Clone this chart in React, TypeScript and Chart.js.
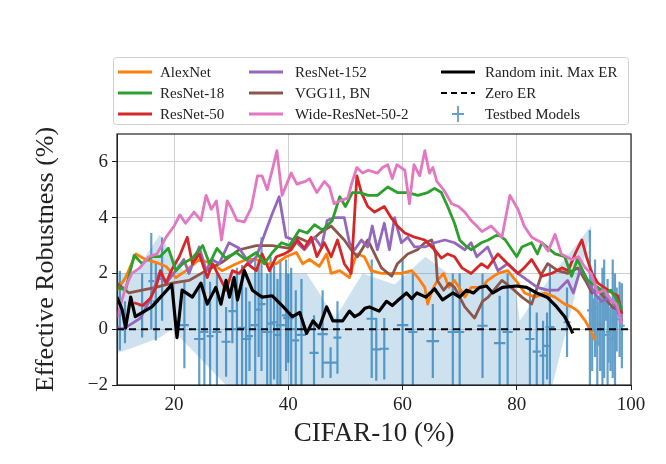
import React, { useEffect, useRef } from 'react';
import { Chart, registerables } from 'chart.js';

Chart.register(...registerables);

const FONT = "'Liberation Serif', 'Times New Roman', serif";

// series labels / colours
const seriesLabels = ['AlexNet', 'ResNet-18', 'ResNet-50', 'ResNet-152', 'VGG11, BN', 'Wide-ResNet-50-2'];
const seriesColors = ['#ff7f0e', '#2ca02c', '#d62728', '#9467bd', '#8c564b', '#e377c2'];

// AlexNet
const alexX = [10, 11.5, 13.3, 15, 16.8, 18.6, 20.3, 22.1, 24.4, 26.6, 28.4, 30.9, 32.6, 34.4, 36.1, 37.9, 39.6, 41.4, 42.5, 43.7, 45.4, 46.7, 47.5, 49, 50.7, 51.6, 52.1, 53.3, 54.5, 56.3, 58.1, 59.8, 61.6, 62.7, 63.9, 64.4, 65.2, 66.1, 67.2, 68.1, 69.1, 70.2, 70.9, 72, 73.9, 74.9, 76.7, 78.4, 80.2, 81.4, 83.2, 84.9, 86.7, 88.4, 89.6, 90.7, 92, 93.2, 93.7];
const alexY = [1.4, 1.85, 2.7, 2.5, 2.4, 2.25, 1.85, 2.1, 2.5, 2.35, 2.1, 2.35, 2.5, 2.5, 2.35, 2.35, 2.6, 2.75, 2.35, 2.5, 2.25, 2.7, 2.0, 2.1, 1.85, 2.5, 2.7, 2.6, 2.1, 2.0, 2.0, 2.0, 2.1, 1.85, 1.5, 0.9, 1.4, 1.75, 2.0, 1.5, 1.75, 1.4, 1.15, 1.5, 1.5, 1.75, 2.0, 2.1, 1.65, 1.3, 1.15, 1.3, 1.15, 0.9, 0.8, 0.65, 0.3, -0.15, -0.4];

// ResNet-18
const r18X = [10, 11.5, 13, 14.4, 16, 17.5, 19, 20.3, 21.5, 23.2, 25, 26.2, 27.5, 29, 30.9, 32.5, 34.4, 35.8, 37.2, 38.8, 40.2, 41.9, 43.3, 44.6, 46, 47.7, 49, 50, 51.2, 52.5, 54, 55.6, 57.4, 59.1, 60.9, 62.7, 64.4, 65.6, 66.8, 67.9, 69.1, 70, 71, 72, 73.8, 75, 76.7, 78, 80, 80.9, 82.6, 83.6, 84.4, 86.7, 88.4, 89.6, 90.6, 92.4, 94.2, 95.3, 96.5, 97.7, 98.4];
const r18Y = [1.5, 1.4, 2.65, 2.35, 2.6, 2.6, 2.9, 2.1, 2.35, 2.55, 3.0, 2.35, 2.9, 2.55, 2.75, 2.5, 2.75, 2.35, 2.75, 3.1, 3.0, 3.55, 3.45, 3.75, 3.55, 3.9, 4.75, 4.4, 4.9, 4.9, 4.8, 4.8, 5.1, 4.9, 4.9, 4.8, 4.9, 5.05, 4.9, 4.4, 3.8, 3.2, 3.0, 2.85, 3.1, 3.2, 3.4, 3.2, 2.6, 2.95, 3.1, 2.7, 3.1, 2.7, 2.6, 1.9, 2.5, 1.75, 1.5, 1.3, 1.4, 1.0, 0.7];

// ResNet-50
const r50X = [13, 14.5, 15.8, 16.8, 17.6, 18.6, 19.5, 20.9, 22.3, 23.2, 24.4, 25.8, 26.7, 28, 29.1, 30.2, 31.4, 32.8, 34.4, 35.4, 36.7, 37.9, 39.3, 40.5, 41.6, 42.8, 44, 45, 46.3, 47.5, 48.6, 49.8, 51, 52, 52.8, 53.9, 55.1, 56.8, 58, 59.1, 60.4, 62.1, 63.9, 65.6, 66.8, 67.9, 69.1, 70.4, 72, 73.8, 74.9, 76.7, 78.4, 80.2, 81.3, 82.6, 84.4, 86.1, 87.9, 89, 90.2, 91.4, 92.2, 93.2, 94.2, 95.3, 96.7, 97.7, 98.4];
const r50Y = [0.95, 0.85, 1.1, 1.5, 2.1, 1.65, 2.1, 2.6, 3.3, 2.35, 2.7, 1.85, 2.35, 1.85, 1.4, 2.1, 2.0, 2.35, 2.1, 2.7, 2.1, 2.6, 2.7, 2.85, 3.2, 2.9, 3.3, 2.6, 3.1, 2.6, 3.2, 2.35, 2.0, 5.5, 4.9, 4.4, 4.2, 4.4, 4.0, 3.7, 3.45, 3.3, 3.2, 2.85, 2.55, 2.7, 2.6, 2.2, 2.0, 2.35, 2.2, 2.7, 2.35, 2.0, 2.2, 2.5, 1.9, 2.0, 2.2, 2.1, 2.7, 3.2, 2.6, 2.0, 1.65, 1.5, 1.3, 1.2, 0.55];

// ResNet-152
const r152X = [10, 11, 12.6, 14.1, 16, 17.4, 18.6, 20.3, 21.7, 22.6, 24.4, 25.6, 26.6, 27.9, 29.6, 31.4, 33.2, 34.4, 36.1, 37.2, 38.4, 39.6, 41, 42.8, 44.6, 45.8, 46.8, 48, 49.8, 50.7, 51.6, 52.8, 53.9, 54.7, 55.6, 56.8, 57.7, 58.6, 59.8, 60.9, 62.1, 63.9, 65.6, 67.4, 69.1, 70.9, 72, 73, 74.9, 76.7, 78.4, 80.2, 81.9, 83.6, 85.4, 87.2, 88.9, 89.9, 91.2, 92.4, 93.6, 94.8, 96, 97.2, 98.4];
const r152Y = [0.1, 0.0, 0.2, 0.4, 1.15, 2.0, 1.65, 2.1, 2.5, 2.0, 2.95, 2.1, 2.5, 2.35, 3.1, 2.9, 2.35, 2.6, 3.55, 4.15, 4.75, 3.3, 3.2, 2.85, 3.3, 2.95, 3.9, 4.0, 4.0, 3.1, 2.85, 3.2, 2.95, 3.7, 2.85, 3.8, 2.85, 4.0, 3.1, 3.3, 2.95, 2.95, 3.1, 3.2, 3.1, 2.85, 3.1, 2.6, 2.95, 2.1, 2.35, 2.0, 1.75, 1.5, 1.4, 1.4, 1.75, 1.3, 2.2, 1.75, 1.3, 1.0, 1.1, 0.9, 0.3];

// VGG11, BN
const vggX = [10, 12.1, 14.4, 16.8, 19.6, 22.6, 25.6, 28.4, 31.4, 34.4, 37.2, 40.2, 41.6, 43.7, 45.5, 47.5, 49.8, 51, 52.1, 53.9, 56.3, 58.1, 59.1, 60.9, 62.6, 63.9, 65.1, 65.8, 66.1, 67.2, 68.2, 69.1, 70.9, 72.6, 74, 75, 77.4, 79, 80.9, 82.6, 84.4, 85.4, 87.2, 88.9, 90.7, 92, 93.2, 94.2, 95.3, 96.7, 97.7, 98.4];
const vggY = [1.65, 1.3, 1.4, 1.5, 1.65, 1.75, 2.1, 2.4, 2.85, 3.0, 3.0, 2.9, 3.3, 3.1, 3.45, 3.7, 3.2, 2.85, 2.6, 3.2, 2.2, 1.9, 2.35, 2.7, 2.85, 3.1, 3.2, 2.7, 1.75, 1.4, 1.65, 1.5, 0.8, 0.4, 1.0, 1.15, 1.75, 1.5, 1.15, 0.9, 2.0, 2.35, 2.1, 2.0, 2.2, 1.75, 1.3, 1.4, 1.15, 0.8, 0.7, 0.3];

// Wide-ResNet-50-2
const wrnX = [10, 11.5, 12.6, 14, 15.6, 17, 18.6, 20, 21, 22, 23.5, 24.7, 25.6, 26.5, 27.4, 28.3, 29.3, 30, 31, 32.3, 33.5, 34.6, 35.4, 36.3, 37.3, 38, 38.9, 40.5, 41.5, 43, 43.7, 45, 46.3, 47.2, 48, 49, 50.4, 51.2, 52, 53, 54, 55.6, 56.5, 57.4, 58.2, 59, 60.4, 61.2, 62, 63, 63.9, 64.7, 65.3, 66, 67.2, 68.6, 69.8, 70.9, 72, 73, 73.9, 75.5, 77.4, 78.8, 80.2, 81.3, 82.6, 84.4, 85.5, 86.7, 87.8, 89.6, 90.8, 92, 93, 94.2, 95.3, 96.7, 97.5, 98.4];
const wrnY = [0.4, 1.5, 2.0, 2.2, 2.6, 2.7, 3.3, 3.7, 4.1, 3.8, 4.2, 3.9, 4.8, 4.3, 4.6, 3.2, 4.6, 4.35, 3.9, 3.85, 4.35, 5.5, 5.5, 5.0, 5.8, 6.4, 4.8, 5.6, 5.2, 5.3, 5.4, 4.9, 5.3, 5.1, 4.5, 4.6, 4.7, 5.3, 5.8, 5.6, 5.7, 5.6, 5.8, 5.9, 5.4, 5.9, 5.7, 4.5, 5.9, 5.5, 6.4, 5.6, 5.8, 5.3, 5.0, 4.5, 4.4, 4.2, 3.9, 3.7, 3.5, 3.7, 3.3, 4.8, 4.3, 3.7, 3.3, 3.1, 2.8, 3.4, 2.7, 2.5, 2.6, 2.2, 2.0, 1.3, 1.4, 1.0, 0.9, 0.2];

// Random init. Max ER
const randX = [10, 10.9, 11.5, 12.4, 13.2, 16.1, 19.6, 20.5, 21.4, 23.2, 24.7, 25.8, 27.3, 28.2, 29.1, 29.7, 30.5, 31.1, 32.3, 33.7, 35.4, 37.2, 38.9, 40.7, 42, 43.2, 44.3, 45.4, 46.7, 47.8, 49.5, 50.7, 51.6, 52.5, 53.4, 54.2, 55.9, 57.2, 58.2, 59, 60.7, 61.6, 62.5, 64.1, 65.6, 67, 68.8, 70, 71.2, 72.4, 73.5, 74.7, 75.8, 77.5, 80, 81.7, 83.5, 85.3, 87, 88.4, 89.6, 89.8];
const randY = [1.15, 0.7, 0.05, 1.15, 0.45, 0.8, 1.6, -0.3, 1.4, 1.15, 1.65, 0.9, 1.5, 0.9, 1.75, 1.15, 1.85, 1.05, 2.1, 1.4, 1.15, 1.2, 0.85, 0.45, 0.6, -0.15, 0.3, 0.05, 0.8, 0.3, 0.3, 0.65, 0.45, 0.55, 0.75, 0.8, 0.65, 1.0, 0.85, 1.0, 1.3, 1.1, 1.3, 1.15, 1.45, 1.05, 1.3, 1.15, 1.4, 1.3, 1.5, 1.55, 1.3, 1.5, 1.55, 1.5, 1.3, 1.15, 0.8, 0.45, -0.05, -0.15];

// shaded region around testbed models
const bandX = [10, 13, 17.5, 19.5, 22, 30, 43.2, 48.2, 53, 58.6, 64, 68, 79.5, 80.5, 86, 93, 93.6, 100];
const bandUpper = [2.0, 2.0, 3.4, 2.7, 2.0, 2.0, 2.0, 0.4, 2.0, 1.6, 2.6, 2.0, 2.0, 0.3, 1.9, 3.7, 0.0, 0.0];
const bandLower = [-0.85, -0.65, -0.3, 0.0, -0.5, -2.2, -2.2, -2.2, -2.2, -2.2, -2.2, -2.2, -2.2, -2.2, -2.2, 3.5, 0.0, 0.0];

// Testbed models (error bars)
const tbX = [10.5, 11.4, 14.4, 16.0, 16.8, 17.9, 21.8, 24.4, 25.3, 26.3, 29.1, 30.2, 31.9, 33.2, 34.2, 35.3, 36.3, 37.5, 38.6, 39.6, 40.5, 42.3, 46.0, 47.4, 48.6, 54.6, 55.4, 56.8, 60.0, 61.8, 65.3, 68.8, 70.0, 74.0, 77.0, 78.4, 82.3, 83.5, 84.6, 85.3, 85.8, 88.8, 92.8, 93.7, 94.6, 95.3, 96.0, 96.8, 97.5, 98.4, 93.5, 94.5, 95.6, 97.0, 27.5, 31.0, 32.6, 34.8, 36.9, 38.1, 40.0, 41.3, 44.5, 93.2, 94.1, 95.0, 95.9, 96.4, 97.2, 98.0];
const tbLo = [-0.75, -0.5, -0.3, 0.0, -0.4, 0.3, -1.4, -2.2, -2.2, -2.2, -1.7, -0.5, -2.2, -1.5, -2.2, -1.5, -2.2, -1.8, -2.2, -1.5, -2.2, -2.2, -1.75, -1.75, -1.6, -1.75, -1.85, -1.8, -2.2, -2.2, -1.75, -2.2, -2.2, -1.75, -2.2, -2.2, -2.2, -2.2, -2.2, -1.8, -2.2, -1.0, -2.2, -1.0, -1.5, -1.75, -1.2, -1.75, -0.8, -1.4, -0.1, -0.6, 0.3, -0.4, -2.2, -2.2, -2.2, -1.0, -2.2, -2.2, -1.2, -2.2, -2.2, -1.5, -2.2, -2.0, -2.2, -1.5, -2.0, -1.0];
const tbHi = [2.1, 1.0, 2.0, 3.45, 2.4, 3.3, 1.7, 1.5, 2.0, 1.7, 0.8, 1.8, 2.3, 1.0, 2.5, 3.3, 2.0, 2.3, 2.5, 2.5, 2.2, 1.8, 1.4, -0.65, 1.0, 2.5, 0.4, 0.4, 2.5, 2.0, 0.9, 2.0, 2.0, 2.0, 1.2, 2.0, 1.5, 0.6, 0.3, 0.6, 2.35, 1.5, 3.55, 2.5, 1.5, 2.5, 1.0, 2.5, 1.5, 1.65, 1.1, 1.0, 1.3, 1.0, 2.0, 2.2, 1.5, 2.4, 2.6, 1.8, 2.0, 1.4, 0.5, 2.0, 1.2, 2.2, 1.8, 0.8, 2.0, 1.7];
const tbXErr = [0.5, 0.4, 0.6, 0.5, 0.5, 0.6, 0.8, 0.9, 0.7, 0.6, 0.8, 0.7, 0.9, 0.6, 0.8, 0.7, 0.9, 0.6, 0.8, 0.7, 0.9, 0.8, 0.9, 1.2, 0.7, 0.9, 0.8, 0.8, 1.0, 0.8, 1.1, 0.9, 0.8, 0.9, 1.0, 0.9, 0.8, 0.7, 0.6, 0.7, 0.8, 0.6, 0.5, 0.5, 0.4, 0.5, 0.4, 0.5, 0.4, 0.5, 0.4, 0.5, 0.4, 0.5, 0.8, 0.7, 0.9, 0.6, 0.8, 0.7, 0.9, 0.6, 0.8, 0.4, 0.5, 0.4, 0.5, 0.4, 0.5, 0.4];

const xTicks = [20, 40, 60, 80, 100];
const yTicks = [-2, 0, 2, 4, 6];

const ERR_COLOR = 'rgba(31,119,180,0.7)';
const BAND_COLOR = 'rgba(31,119,180,0.22)';

const pts = (xs: number[], ys: number[]) => xs.map((x, i) => ({ x, y: ys[i] }));

const errPoints = () => {
  const out: any[] = [];
  tbX.forEach((x, i) => {
    const y = (tbLo[i] + tbHi[i]) / 2;
    const ex = tbXErr[i];
    out.push({ x, y: tbLo[i] }, { x, y: tbHi[i] }, { x, y: null });
    out.push({ x: x - ex, y }, { x: x + ex, y }, { x: x + ex, y: null });
  });
  return out;
};

// legend drawn as a 3-column box, like matplotlib ncol=3
const legendPlugin = {
  id: 'boxLegend',
  afterDraw(chart: any) {
    const ctx = chart.ctx;
    const items = [
      { label: seriesLabels[0], color: seriesColors[0], kind: 'line' },
      { label: seriesLabels[1], color: seriesColors[1], kind: 'line' },
      { label: seriesLabels[2], color: seriesColors[2], kind: 'line' },
      { label: seriesLabels[3], color: seriesColors[3], kind: 'line' },
      { label: seriesLabels[4], color: seriesColors[4], kind: 'line' },
      { label: seriesLabels[5], color: seriesColors[5], kind: 'line' },
      { label: 'Random init. Max ER', color: '#000', kind: 'bold' },
      { label: 'Zero ER', color: '#000', kind: 'dash' },
      { label: 'Testbed Models', color: ERR_COLOR, kind: 'err' },
    ];
    const colX = [118, 249, 441];
    const textX = [160, 295, 485];
    const rowY = [72, 93, 114];
    ctx.save();
    ctx.beginPath();
    ctx.roundRect(113.5, 57.5, 515, 67, 3);
    ctx.fillStyle = 'rgba(255,255,255,0.85)';
    ctx.fill();
    ctx.strokeStyle = '#d0d0d0';
    ctx.lineWidth = 1;
    ctx.stroke();
    ctx.font = `15px ${FONT}`;
    ctx.textBaseline = 'middle';
    items.forEach((it, i) => {
      const c = Math.floor(i / 3);
      const r = i % 3;
      const y = rowY[r];
      const x0 = colX[c];
      ctx.strokeStyle = it.color;
      ctx.setLineDash([]);
      ctx.lineWidth = 2.8;
      if (it.kind === 'bold') ctx.lineWidth = 3.2;
      if (it.kind === 'dash') {
        ctx.lineWidth = 2;
        ctx.setLineDash([6, 4]);
      }
      ctx.beginPath();
      if (it.kind === 'err') {
        const cx = x0 + 17;
        ctx.lineWidth = 1.8;
        ctx.moveTo(cx, y - 8);
        ctx.lineTo(cx, y + 8);
        ctx.moveTo(cx - 6, y);
        ctx.lineTo(cx + 6, y);
      } else {
        ctx.moveTo(x0, y);
        ctx.lineTo(x0 + 34, y);
      }
      ctx.stroke();
      ctx.setLineDash([]);
      ctx.fillStyle = '#222';
      ctx.fillText(it.label, textX[c], y + 1);
    });
    ctx.restore();
  },
};

const framePlugin = {
  id: 'frame',
  afterDatasetsDraw(chart: any) {
    const { ctx, chartArea: a } = chart;
    ctx.save();
    ctx.strokeStyle = '#222';
    ctx.lineWidth = 1.2;
    ctx.strokeRect(a.left, a.top, a.right - a.left, a.bottom - a.top);
    ctx.restore();
  },
};

const App = () => {
  const canvasRef = useRef<HTMLCanvasElement>(null);

  useEffect(() => {
    document.body.style.margin = '0';
    if (!canvasRef.current) return;

    const lineDs = (label: string, xs: number[], ys: number[], color: string, order: number, width = 2.8) => ({
      label,
      data: pts(xs, ys),
      borderColor: color,
      backgroundColor: color,
      borderWidth: width,
      pointRadius: 0,
      tension: 0,
      fill: false,
      borderJoinStyle: 'round' as const,
      order,
    });

    const chart = new Chart(canvasRef.current, {
      type: 'line',
      data: {
        datasets: [
          {
            label: 'band lower',
            data: pts(bandX, bandLower),
            borderWidth: 0,
            pointRadius: 0,
            fill: false,
            order: 20,
          } as any,
          {
            label: 'band upper',
            data: pts(bandX, bandUpper),
            borderWidth: 0,
            pointRadius: 0,
            backgroundColor: BAND_COLOR,
            fill: '-1',
            order: 19,
          } as any,
          {
            label: 'Testbed Models',
            data: errPoints(),
            borderColor: ERR_COLOR,
            borderWidth: 2.2,
            pointRadius: 0,
            spanGaps: false,
            fill: false,
            order: 15,
          } as any,
          lineDs(seriesLabels[0], alexX, alexY, seriesColors[0], 7),
          lineDs(seriesLabels[4], vggX, vggY, seriesColors[4], 6),
          lineDs(seriesLabels[3], r152X, r152Y, seriesColors[3], 5),
          lineDs(seriesLabels[2], r50X, r50Y, seriesColors[2], 4),
          lineDs(seriesLabels[1], r18X, r18Y, seriesColors[1], 3),
          lineDs(seriesLabels[5], wrnX, wrnY, seriesColors[5], 2),
          {
            label: 'Zero ER',
            data: [{ x: 10, y: 0 }, { x: 100, y: 0 }],
            borderColor: '#000',
            borderWidth: 2,
            borderDash: [7, 5],
            pointRadius: 0,
            fill: false,
            order: 1,
          } as any,
          lineDs('Random init. Max ER', randX, randY, '#000', 0, 3.2),
        ],
      },
      options: {
        responsive: false,
        animation: false,
        layout: { padding: { top: 134, right: 35, left: 0, bottom: 0 } },
        plugins: {
          legend: { display: false },
          tooltip: { enabled: false },
        },
        scales: {
          x: {
            type: 'linear',
            min: 10,
            max: 100,
            afterFit: (s: any) => {
              s.height = 79;
            },
            afterBuildTicks: (s: any) => {
              s.ticks = xTicks.map((v) => ({ value: v }));
            },
            ticks: { font: { family: FONT, size: 19 }, color: '#222', padding: 4 },
            grid: { color: '#cfcfcf', lineWidth: 1, tickColor: '#222', tickLength: 5 },
            border: { display: true, color: '#222' },
            title: {
              display: true,
              text: 'CIFAR-10 (%)',
              font: { family: FONT, size: 27 },
              color: '#222',
              padding: { top: 0, bottom: 14 },
            },
          },
          y: {
            type: 'linear',
            min: -2,
            max: 7,
            afterFit: (s: any) => {
              s.width = 117;
            },
            afterBuildTicks: (s: any) => {
              s.ticks = yTicks.map((v) => ({ value: v }));
            },
            ticks: {
              font: { family: FONT, size: 19 },
              color: '#222',
              padding: 4,
              callback: (v: any) => String(v).replace('-', '\u2212'),
            },
            grid: { color: '#cfcfcf', lineWidth: 1, tickColor: '#222', tickLength: 5 },
            border: { display: true, color: '#222' },
            title: {
              display: true,
              text: 'Effective Robustness (%)',
              font: { family: FONT, size: 26 },
              color: '#222',
              padding: { top: 31, bottom: 0 },
            },
          },
        },
      },
      plugins: [framePlugin, legendPlugin],
    });

    return () => {
      chart.destroy();
    };
  }, []);

  return <canvas ref={canvasRef} width={666} height={464} style={{ display: 'block' }} />;
};

export default App;
